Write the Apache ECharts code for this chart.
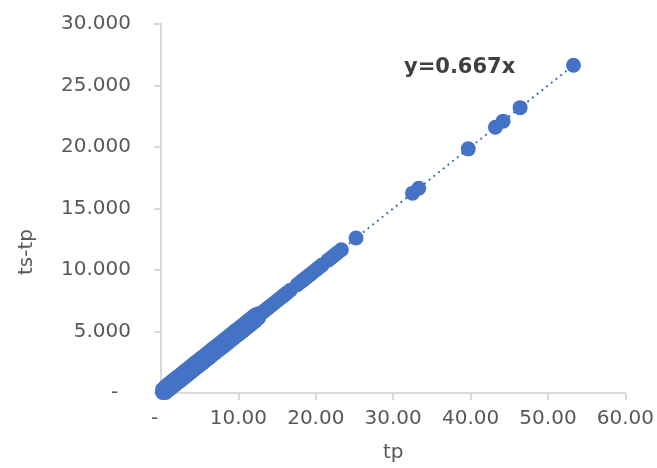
<!DOCTYPE html>
<html>
<head>
<meta charset="utf-8">
<script src="https://cdn.jsdelivr.net/npm/echarts@6/dist/echarts.min.js"></script>
<style>
  html, body { margin: 0; padding: 0; background: #fff; }
  #chart { width: 657px; height: 468px; }
</style>
</head>
<body>
<div id="chart"></div>
<script>
// tp values (x)
const tpValues = [
  // dense part, lower edge
  0.2, 0.6, 1.0, 1.4, 1.8, 2.2, 2.6, 3.0, 3.4, 3.8, 4.2, 4.6, 5.0, 5.4, 5.8,
  6.2, 6.6, 7.0, 7.4, 7.8, 8.2, 8.6, 9.0, 9.4, 9.8, 10.2, 10.6, 11.0, 11.4,
  11.8, 12.2, 12.6,
  // dense part, upper edge
  0.2, 0.6, 1.0, 1.4, 1.8, 2.2, 2.6, 3.0, 3.4, 3.8, 4.2, 4.6, 5.0, 5.4, 5.8,
  6.2, 6.6, 7.0, 7.4, 7.8, 8.2, 8.6, 9.0, 9.4, 9.8, 10.2, 10.6, 11.0, 11.4,
  11.8, 12.2, 12.6,
  // thinner part
  13.0, 13.4, 13.8, 14.2, 14.6, 15.0, 15.4, 15.8, 16.2, 16.7,
  17.6, 18.0, 18.4, 18.8, 19.2, 19.6, 20.0, 20.4, 20.8,
  21.6, 22.0, 22.4, 22.8, 23.3,
  // single points
  25.2, 32.5, 33.3, 39.7, 43.2, 44.2, 46.4, 53.3
];
// ts-tp values (y)
const tsTpValues = [
  0.05, 0.05, 0.25, 0.45, 0.65, 0.85, 1.05, 1.25, 1.45, 1.65, 1.85, 2.05, 2.25, 2.45, 2.65,
  2.85, 3.05, 3.25, 3.45, 3.65, 3.85, 4.05, 4.25, 4.45, 4.65, 4.85, 5.05, 5.25, 5.45,
  5.65, 5.85, 6.1,
  0.3, 0.55, 0.75, 0.95, 1.15, 1.35, 1.55, 1.75, 1.95, 2.15, 2.35, 2.55, 2.75, 2.95, 3.15,
  3.35, 3.55, 3.75, 3.95, 4.15, 4.35, 4.55, 4.75, 4.95, 5.15, 5.35, 5.55, 5.75, 5.95,
  6.15, 6.35, 6.45,
  6.5, 6.7, 6.9, 7.1, 7.3, 7.5, 7.7, 7.9, 8.1, 8.35,
  8.8, 9.0, 9.2, 9.4, 9.6, 9.8, 10.0, 10.2, 10.4,
  10.8, 11.0, 11.2, 11.4, 11.65,
  12.6, 16.25, 16.65, 19.85, 21.6, 22.1, 23.2, 26.65
];
// trendline end points
const trendX = [0, 53.3];
const trendY = [0, 26.65];
const trendLabel = "y=0.667x";

const xTicks = [0, 10, 20, 30, 40, 50, 60];
const yTicks = [0, 5, 10, 15, 20, 25, 30];

const blue = "#4472C4";
const labelColor = "#595959";
const axisColor = "#d9d9d9";
const font = "DejaVu Sans";

const chart = echarts.init(document.getElementById("chart"));

let option = {
  animation: false,
  grid: { left: 161, right: 30, top: 24, bottom: 73 },
  xAxis: {
    type: "value",
    min: xTicks[0],
    max: xTicks[xTicks.length - 1],
    interval: 10,
    name: "tp",
    nameLocation: "middle",
    nameGap: 50,
    nameTextStyle: { color: labelColor, fontSize: 20, fontFamily: font },
    axisLine: { show: true, lineStyle: { color: axisColor, width: 2 } },
    axisTick: { show: true, length: 7, lineStyle: { color: axisColor, width: 2 } },
    splitLine: { show: false },
    axisLabel: {
      color: labelColor,
      fontSize: 20,
      fontFamily: font,
      margin: 16,
      formatter: (v) => (v === 0 ? "-  " : v.toFixed(2)),
    },
  },
  yAxis: {
    type: "value",
    min: yTicks[0],
    max: yTicks[yTicks.length - 1],
    interval: 5,
    axisLine: { show: true, lineStyle: { color: axisColor, width: 2 } },
    axisTick: { show: true, length: 7, lineStyle: { color: axisColor, width: 2 } },
    splitLine: { show: false },
    axisLabel: {
      color: labelColor,
      fontSize: 20,
      fontFamily: font,
      margin: 30,
      formatter: (v) => (v === 0 ? "-  " : v.toFixed(3)),
    },
  },
  graphic: [
    {
      type: "text",
      x: 27,
      y: 252,
      rotation: Math.PI / 2,
      style: {
        text: "ts-tp",
        fill: labelColor,
        font: "20px " + font,
        align: "center",
        verticalAlign: "middle",
      },
    },
    {
      type: "text",
      x: 404,
      y: 68,
      style: {
        text: trendLabel,
        fill: "#404040",
        font: "bold 21px " + font,
        align: "left",
        verticalAlign: "middle",
      },
    },
  ],
  series: [
    {
      type: "line",
      symbol: "none",
      silent: true,
      lineStyle: { color: blue, width: 2, type: [2, 4] },
      data: trendX.map((x, i) => [x, trendY[i]]),
      z: 1,
    },
    {
      type: "scatter",
      symbolSize: 15,
      itemStyle: { color: blue, opacity: 1 },
      data: tpValues.map((x, i) => [x, tsTpValues[i]]),
      z: 2,
    },
  ],
};
chart.setOption(option);
</script>
</body>
</html>
